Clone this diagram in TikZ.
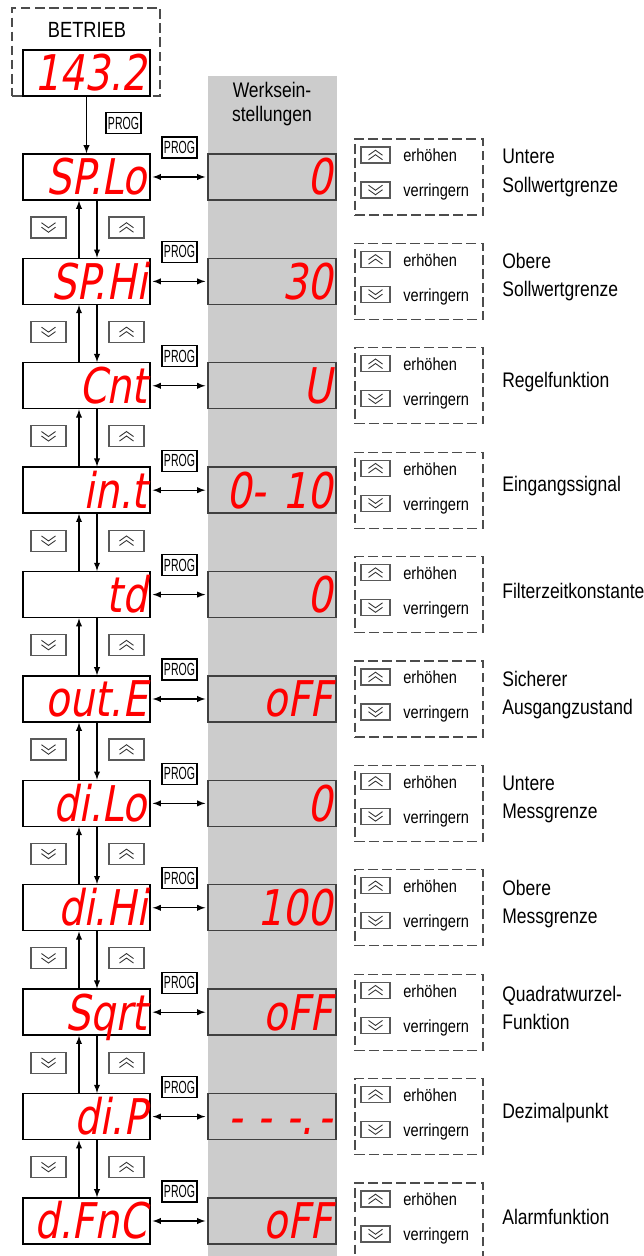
\documentclass[tikz,border=0pt]{standalone}
\usepackage{fontspec}
\setmainfont{Liberation Sans}[FakeStretch=0.83]
\newfontfamily\segfont{DejaVu Sans}[FakeStretch=0.8,FakeSlant=0.18]
\newfontfamily\progfont{Liberation Sans}[FakeStretch=0.6]
\usepackage{tikz}
\definecolor{segred}{RGB}{255,0,0}
\definecolor{presetgray}{RGB}{204,204,204}
\tikzset{
  presetcol/.style={fill=presetgray, draw=none},
  display/.style={draw=black, line width=0.8pt, minimum width=2.54cm, minimum height=0.92cm, inner sep=0pt, text width=2.42cm, align=right, text height=0.72cm, text depth=0pt, text=segred, font=\segfont\fontsize{28}{28}\selectfont},
  preset/.style={display, fill=presetgray, draw=black!75, minimum width=2.56cm},
  runframe/.style={draw=black!70, dash pattern=on 5.5pt off 2.5pt, line width=0.6pt, minimum width=2.96cm, minimum height=1.76cm, inner sep=0pt},
  keyframe/.style={draw=black!70, dash pattern=on 5.5pt off 2.5pt, line width=0.6pt, minimum width=2.56cm, minimum height=1.52cm, inner sep=0pt},
  progbox/.style={draw=black, line width=0.6pt, minimum width=0.7cm, minimum height=0.42cm, inner sep=0pt, font=\progfont\fontsize{10}{10}\selectfont},
  btnbox/.style={draw=black!65, line width=0.6pt, minimum width=0.7cm, minimum height=0.42cm, inner sep=0pt},
  keybox/.style={btnbox, minimum width=0.58cm, minimum height=0.32cm},
  chevline/.style={draw=black!80, line width=0.5pt},
  chevup/.style={path picture={\draw[chevline, shift={(path picture bounding box.center)}, scale=#1] (-0.14,-0.005) -- (0,0.095) -- (0.14,-0.005) (-0.14,-0.095) -- (0,0.005) -- (0.14,-0.095);}},
  chevdown/.style={path picture={\draw[chevline, shift={(path picture bounding box.center)}, scale=#1] (-0.14,0.095) -- (0,-0.005) -- (0.14,0.095) (-0.14,0.005) -- (0,-0.095) -- (0.14,0.005);}},
  flow/.style={-latex, line width=0.6pt, draw=black},
  progarrow/.style={latex-latex, line width=0.6pt, draw=black, shorten <=0.04cm, shorten >=0.04cm},
  headline/.style={font=\fontsize{12}{14}\selectfont, align=center},
  desc/.style={font=\fontsize{12}{16}\selectfont, align=left, anchor=west, inner sep=0pt},
  keytext/.style={font=\fontsize{10}{12}\selectfont, anchor=base west, inner sep=0pt},
}
\begin{document}
\begin{tikzpicture}
\useasboundingbox (0,0) rectangle (12.860,25.120);
\fill[presetcol] (4.160,0) rectangle (6.740,23.600);
\node[headline] (head) at (5.440,23.040) {Werksein-\\stellungen};
\node[runframe] (frame) at (1.720,24.080) {};
\node[font=\fontsize{12.5}{14}\selectfont] (betrieb) at (1.740,24.520) {BETRIEB};
\node[display, fill=white] (run) at (1.730,23.660) {143.2};
\node[progbox] (prun) at (2.470,22.660) {PROG};
\node[display] (d0) at (1.730,21.580) {SP.Lo};
\node[display] (d1) at (1.730,19.492) {SP.Hi};
\node[display] (d2) at (1.730,17.404) {Cnt};
\node[display] (d3) at (1.730,15.316) {in.t};
\node[display] (d4) at (1.730,13.228) {td};
\node[display] (d5) at (1.730,11.140) {out.E};
\node[display] (d6) at (1.730,9.052) {di.Lo};
\node[display] (d7) at (1.730,6.964) {di.Hi};
\node[display] (d8) at (1.730,4.876) {Sqrt};
\node[display] (d9) at (1.730,2.788) {di.P};
\node[display] (d10) at (1.730,0.700) {d.FnC};
\node[preset] (w0) at (5.440,21.580) {0};
\node[preset] (w1) at (5.440,19.492) {30};
\node[preset] (w2) at (5.440,17.404) {U};
\node[preset] (w3) at (5.440,15.316) {0- 10};
\node[preset] (w4) at (5.440,13.228) {0};
\node[preset] (w5) at (5.440,11.140) {oFF};
\node[preset] (w6) at (5.440,9.052) {0};
\node[preset] (w7) at (5.440,6.964) {100};
\node[preset] (w8) at (5.440,4.876) {oFF};
\node[preset] (w9) at (5.440,2.788) {-\kern.3em-\kern.3em-.\kern.1em-};
\node[preset] (w10) at (5.440,0.700) {oFF};
\node[progbox] (p0) at (3.590,22.170) {PROG};
\node[progbox] (p1) at (3.590,20.082) {PROG};
\node[progbox] (p2) at (3.590,17.994) {PROG};
\node[progbox] (p3) at (3.590,15.906) {PROG};
\node[progbox] (p4) at (3.590,13.818) {PROG};
\node[progbox] (p5) at (3.590,11.730) {PROG};
\node[progbox] (p6) at (3.590,9.642) {PROG};
\node[progbox] (p7) at (3.590,7.554) {PROG};
\node[progbox] (p8) at (3.590,5.466) {PROG};
\node[progbox] (p9) at (3.590,3.378) {PROG};
\node[progbox] (p10) at (3.590,1.290) {PROG};
\node[btnbox, chevdown=1] (bd0) at (0.970,20.570) {};
\node[btnbox, chevdown=1] (bd1) at (0.970,18.482) {};
\node[btnbox, chevdown=1] (bd2) at (0.970,16.394) {};
\node[btnbox, chevdown=1] (bd3) at (0.970,14.306) {};
\node[btnbox, chevdown=1] (bd4) at (0.970,12.218) {};
\node[btnbox, chevdown=1] (bd5) at (0.970,10.130) {};
\node[btnbox, chevdown=1] (bd6) at (0.970,8.042) {};
\node[btnbox, chevdown=1] (bd7) at (0.970,5.954) {};
\node[btnbox, chevdown=1] (bd8) at (0.970,3.866) {};
\node[btnbox, chevdown=1] (bd9) at (0.970,1.778) {};
\node[btnbox, chevup=1] (bu0) at (2.530,20.570) {};
\node[btnbox, chevup=1] (bu1) at (2.530,18.482) {};
\node[btnbox, chevup=1] (bu2) at (2.530,16.394) {};
\node[btnbox, chevup=1] (bu3) at (2.530,14.306) {};
\node[btnbox, chevup=1] (bu4) at (2.530,12.218) {};
\node[btnbox, chevup=1] (bu5) at (2.530,10.130) {};
\node[btnbox, chevup=1] (bu6) at (2.530,8.042) {};
\node[btnbox, chevup=1] (bu7) at (2.530,5.954) {};
\node[btnbox, chevup=1] (bu8) at (2.530,3.866) {};
\node[btnbox, chevup=1] (bu9) at (2.530,1.778) {};
\node[keyframe] (k0) at (8.380,21.580) {};
\node[keyframe] (k1) at (8.380,19.492) {};
\node[keyframe] (k2) at (8.380,17.404) {};
\node[keyframe] (k3) at (8.380,15.316) {};
\node[keyframe] (k4) at (8.380,13.228) {};
\node[keyframe] (k5) at (8.380,11.140) {};
\node[keyframe] (k6) at (8.380,9.052) {};
\node[keyframe] (k7) at (8.380,6.964) {};
\node[keyframe] (k8) at (8.380,4.876) {};
\node[keyframe] (k9) at (8.380,2.788) {};
\node[keyframe] (k10) at (8.380,0.700) {};
\node[keybox, chevup=0.8] (ku0) at (7.510,22.020) {};
\node[keybox, chevup=0.8] (ku1) at (7.510,19.932) {};
\node[keybox, chevup=0.8] (ku2) at (7.510,17.844) {};
\node[keybox, chevup=0.8] (ku3) at (7.510,15.756) {};
\node[keybox, chevup=0.8] (ku4) at (7.510,13.668) {};
\node[keybox, chevup=0.8] (ku5) at (7.510,11.580) {};
\node[keybox, chevup=0.8] (ku6) at (7.510,9.492) {};
\node[keybox, chevup=0.8] (ku7) at (7.510,7.404) {};
\node[keybox, chevup=0.8] (ku8) at (7.510,5.316) {};
\node[keybox, chevup=0.8] (ku9) at (7.510,3.228) {};
\node[keybox, chevup=0.8] (ku10) at (7.510,1.140) {};
\node[keybox, chevdown=0.8] (kd0) at (7.510,21.320) {};
\node[keybox, chevdown=0.8] (kd1) at (7.510,19.232) {};
\node[keybox, chevdown=0.8] (kd2) at (7.510,17.144) {};
\node[keybox, chevdown=0.8] (kd3) at (7.510,15.056) {};
\node[keybox, chevdown=0.8] (kd4) at (7.510,12.968) {};
\node[keybox, chevdown=0.8] (kd5) at (7.510,10.880) {};
\node[keybox, chevdown=0.8] (kd6) at (7.510,8.792) {};
\node[keybox, chevdown=0.8] (kd7) at (7.510,6.704) {};
\node[keybox, chevdown=0.8] (kd8) at (7.510,4.616) {};
\node[keybox, chevdown=0.8] (kd9) at (7.510,2.528) {};
\node[keybox, chevdown=0.8] (kd10) at (7.510,0.440) {};
\node[keytext] (eh0) at (8.060,21.880) {erhöhen};
\node[keytext] (eh1) at (8.060,19.792) {erhöhen};
\node[keytext] (eh2) at (8.060,17.704) {erhöhen};
\node[keytext] (eh3) at (8.060,15.616) {erhöhen};
\node[keytext] (eh4) at (8.060,13.528) {erhöhen};
\node[keytext] (eh5) at (8.060,11.440) {erhöhen};
\node[keytext] (eh6) at (8.060,9.352) {erhöhen};
\node[keytext] (eh7) at (8.060,7.264) {erhöhen};
\node[keytext] (eh8) at (8.060,5.176) {erhöhen};
\node[keytext] (eh9) at (8.060,3.088) {erhöhen};
\node[keytext] (eh10) at (8.060,1.000) {erhöhen};
\node[keytext] (vr0) at (8.060,21.180) {verringern};
\node[keytext] (vr1) at (8.060,19.092) {verringern};
\node[keytext] (vr2) at (8.060,17.004) {verringern};
\node[keytext] (vr3) at (8.060,14.916) {verringern};
\node[keytext] (vr4) at (8.060,12.828) {verringern};
\node[keytext] (vr5) at (8.060,10.740) {verringern};
\node[keytext] (vr6) at (8.060,8.652) {verringern};
\node[keytext] (vr7) at (8.060,6.564) {verringern};
\node[keytext] (vr8) at (8.060,4.476) {verringern};
\node[keytext] (vr9) at (8.060,2.388) {verringern};
\node[keytext] (vr10) at (8.060,0.300) {verringern};
\node[desc] (t0) at (10.040,21.660) {Untere\\Sollwertgrenze};
\node[desc] (t1) at (10.040,19.572) {Obere\\Sollwertgrenze};
\node[desc] (t2) at (10.040,17.484) {Regelfunktion};
\node[desc] (t3) at (10.040,15.396) {Eingangssignal};
\node[desc] (t4) at (10.040,13.308) {Filterzeitkonstante};
\node[desc] (t5) at (10.040,11.220) {Sicherer\\Ausgangzustand};
\node[desc] (t6) at (10.040,9.132) {Untere\\Messgrenze};
\node[desc] (t7) at (10.040,7.044) {Obere\\Messgrenze};
\node[desc] (t8) at (10.040,4.956) {Quadratwurzel-\\Funktion};
\node[desc] (t9) at (10.040,2.868) {Dezimalpunkt};
\node[desc] (t10) at (10.040,0.780) {Alarmfunktion};
\draw[flow] (run.south) -- (d0.north);
\draw[progarrow] (d0.east) -- (w0.west);
\draw[progarrow] (d1.east) -- (w1.west);
\draw[progarrow] (d2.east) -- (w2.west);
\draw[progarrow] (d3.east) -- (w3.west);
\draw[progarrow] (d4.east) -- (w4.west);
\draw[progarrow] (d5.east) -- (w5.west);
\draw[progarrow] (d6.east) -- (w6.west);
\draw[progarrow] (d7.east) -- (w7.west);
\draw[progarrow] (d8.east) -- (w8.west);
\draw[progarrow] (d9.east) -- (w9.west);
\draw[progarrow] (d10.east) -- (w10.west);
\draw[flow] ([xshift=-0.15cm]d1.north) -- ([xshift=-0.15cm]d0.south);
\draw[flow] ([xshift=-0.15cm]d2.north) -- ([xshift=-0.15cm]d1.south);
\draw[flow] ([xshift=-0.15cm]d3.north) -- ([xshift=-0.15cm]d2.south);
\draw[flow] ([xshift=-0.15cm]d4.north) -- ([xshift=-0.15cm]d3.south);
\draw[flow] ([xshift=-0.15cm]d5.north) -- ([xshift=-0.15cm]d4.south);
\draw[flow] ([xshift=-0.15cm]d6.north) -- ([xshift=-0.15cm]d5.south);
\draw[flow] ([xshift=-0.15cm]d7.north) -- ([xshift=-0.15cm]d6.south);
\draw[flow] ([xshift=-0.15cm]d8.north) -- ([xshift=-0.15cm]d7.south);
\draw[flow] ([xshift=-0.15cm]d9.north) -- ([xshift=-0.15cm]d8.south);
\draw[flow] ([xshift=-0.15cm]d10.north) -- ([xshift=-0.15cm]d9.south);
\draw[flow] ([xshift=0.21cm]d0.south) -- ([xshift=0.21cm]d1.north);
\draw[flow] ([xshift=0.21cm]d1.south) -- ([xshift=0.21cm]d2.north);
\draw[flow] ([xshift=0.21cm]d2.south) -- ([xshift=0.21cm]d3.north);
\draw[flow] ([xshift=0.21cm]d3.south) -- ([xshift=0.21cm]d4.north);
\draw[flow] ([xshift=0.21cm]d4.south) -- ([xshift=0.21cm]d5.north);
\draw[flow] ([xshift=0.21cm]d5.south) -- ([xshift=0.21cm]d6.north);
\draw[flow] ([xshift=0.21cm]d6.south) -- ([xshift=0.21cm]d7.north);
\draw[flow] ([xshift=0.21cm]d7.south) -- ([xshift=0.21cm]d8.north);
\draw[flow] ([xshift=0.21cm]d8.south) -- ([xshift=0.21cm]d9.north);
\draw[flow] ([xshift=0.21cm]d9.south) -- ([xshift=0.21cm]d10.north);
\end{tikzpicture}
\end{document}
